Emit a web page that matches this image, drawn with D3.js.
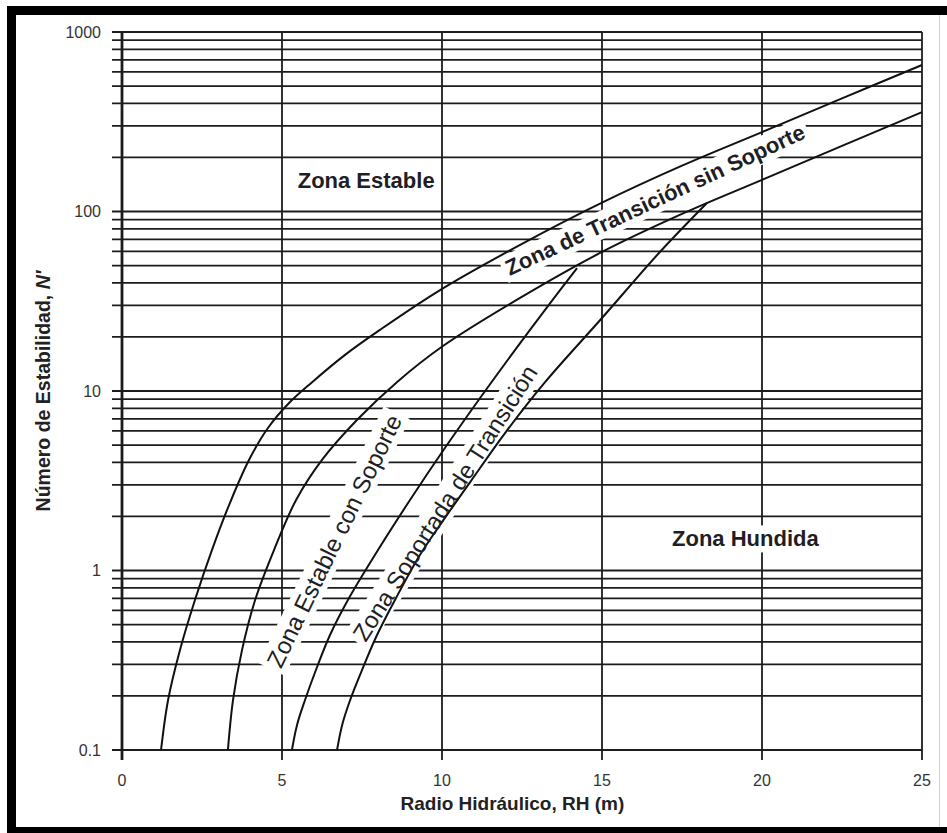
<!DOCTYPE html>
<html>
<head>
<meta charset="utf-8">
<script src="https://cdn.jsdelivr.net/npm/d3@7"></script>
<style>
  html, body { margin: 0; padding: 0; background: #fff; }
  svg { display: block; }
  text { font-family: "Liberation Sans", Arial, Helvetica, sans-serif; }
</style>
</head>
<body>
<svg id="chart" width="947" height="833"></svg>
<script>
// ---- Data: stability graph boundaries (Hydraulic radius RH vs stability number N') ----
const xTicks = [0, 5, 10, 15, 20, 25];
const yTickLabels = ["0.1", "1", "10", "100", "1000"];

// Upper boundary of the stable zone
const boundary1RH = [1.22, 1.44, 1.81, 2.28, 2.81, 3.41, 4.0, 4.56, 5.25, 5.94, 6.97, 8.06, 9.94, 12.5, 15, 17.5, 20, 22.5, 25];
const boundary1N  = [0.1, 0.19, 0.36, 0.685, 1.3, 2.47, 4.23, 6.22, 8.68, 11.2, 15.9, 21.9, 36.5, 66, 112, 180, 277, 427, 655];

// Lower boundary of the unsupported transition zone
const boundary2RH = [3.31, 3.47, 3.75, 4.16, 4.75, 5.44, 6.25, 7.34, 8.59, 10.03, 12.44, 15, 17.5, 20, 22.5, 25];
const boundary2N  = [0.1, 0.19, 0.36, 0.685, 1.3, 2.47, 4.13, 6.89, 11.2, 17.8, 33, 59.5, 96.9, 150, 232, 358];

// Limit of the supported stable zone
const boundary3RH = [5.31, 5.47, 5.72, 6.06, 6.5, 7.06, 8.0, 9.0, 10.09, 11.19, 12.28, 13.38, 14.22];
const boundary3N  = [0.1, 0.138, 0.19, 0.279, 0.437, 0.685, 1.3, 2.47, 4.81, 9.14, 16.9, 30.9, 48.4];

// Limit of the supported transition zone
const boundary4RH = [6.72, 6.88, 7.13, 7.5, 7.97, 8.53, 9.31, 10.0, 10.88, 11.97, 13.22, 15.0, 16.81, 18.28];
const boundary4N  = [0.1, 0.138, 0.19, 0.279, 0.437, 0.685, 1.22, 1.86, 3.11, 5.83, 11.2, 25.5, 59.5, 111.5];

// Zone names, with anchor position (RH, N) and rotation in degrees
const zoneNames  = ["Zona Estable", "Zona Hundida", "Zona de Transición sin Soporte", "Zona Estable con Soporte", "Zona Soportada de Transición"];
const zoneRH     = [7.63, 19.48, 16.66, 6.63, 10.09];
const zoneN      = [148, 1.5, 116, 1.46, 2.38];
const zoneAngle  = [0, 0, -25, -64, -57.5];
const zoneBold   = [true, true, true, false, false];
const zoneSize   = [22, 22, 22, 24, 24];

// ---- Layout ----
const svg = d3.select("#chart");
const W = 947, H = 833;
const plot = { left: 122, right: 922, top: 32, bottom: 750 };

const x = d3.scaleLinear().domain([0, 25]).range([plot.left, plot.right]);
const y = d3.scaleLog().domain([0.1, 1000]).range([plot.bottom, plot.top]);

// Outer frame
svg.append("rect").attr("x", 0).attr("y", 0).attr("width", W).attr("height", H).attr("fill", "#fff");
svg.append("rect").attr("x", 7).attr("y", 6).attr("width", 940).attr("height", 9).attr("fill", "#000");
svg.append("rect").attr("x", 7).attr("y", 6).attr("width", 9).attr("height", 827).attr("fill", "#000");
svg.append("rect").attr("x", 7).attr("y", 827).attr("width", 940).attr("height", 6).attr("fill", "#000");
svg.append("line").attr("x1", 939.5).attr("x2", 939.5).attr("y1", 15).attr("y2", 827)
  .attr("stroke", "#d0d0d0").attr("stroke-width", 1);

const gridColor = "#1c1c1c";

// Horizontal grid lines at every log tick (with a short tick stub to the left)
const yGrid = y.ticks();
svg.append("g").selectAll("line").data(yGrid).join("line")
  .attr("x1", plot.left - 10).attr("x2", plot.right)
  .attr("y1", d => y(d)).attr("y2", d => y(d))
  .attr("stroke", gridColor).attr("stroke-width", 1.8);

// Vertical grid lines (with tick stub below)
svg.append("g").selectAll("line").data(xTicks).join("line")
  .attr("x1", d => x(d)).attr("x2", d => x(d))
  .attr("y1", plot.top).attr("y2", plot.bottom + 10)
  .attr("stroke", gridColor).attr("stroke-width", d => d === 0 ? 2.8 : 1.8);

// Tick labels
svg.append("g").selectAll("text").data(yTickLabels).join("text")
  .attr("x", plot.left - 21).attr("y", d => y(+d))
  .attr("text-anchor", "end").attr("dominant-baseline", "central")
  .attr("font-size", 16).attr("fill", "#333")
  .text(d => d);

svg.append("g").selectAll("text").data(xTicks).join("text")
  .attr("x", d => x(d)).attr("y", plot.bottom + 30)
  .attr("text-anchor", "middle").attr("dominant-baseline", "central")
  .attr("font-size", 16).attr("fill", "#333")
  .text(d => d);

// Axis titles
svg.append("text")
  .attr("x", x(12.2)).attr("y", 803)
  .attr("text-anchor", "middle").attr("dominant-baseline", "central")
  .attr("font-size", 19).attr("font-weight", "bold").attr("fill", "#222")
  .text("Radio Hidráulico, RH (m)");

const yTitle = svg.append("text")
  .attr("transform", `translate(43, ${(plot.top + plot.bottom) / 2}) rotate(-90)`)
  .attr("text-anchor", "middle").attr("dominant-baseline", "central")
  .attr("font-size", 19.5).attr("font-weight", "bold").attr("fill", "#222");
yTitle.append("tspan").text("Número de Estabilidad, ");
yTitle.append("tspan").attr("font-style", "italic").text("N'");

// Layers: label backgrounds under the curves, label text above
const bgLayer = svg.append("g");
const curveLayer = svg.append("g");
const textLayer = svg.append("g");

// Boundary curves
const line = d3.line()
  .x(d => x(d[0])).y(d => y(d[1]))
  .curve(d3.curveCatmullRom.alpha(0.5));

const boundaries = [
  d3.zip(boundary1RH, boundary1N),
  d3.zip(boundary2RH, boundary2N),
  d3.zip(boundary3RH, boundary3N),
  d3.zip(boundary4RH, boundary4N)
];
curveLayer.selectAll("path").data(boundaries).join("path")
  .attr("d", line)
  .attr("fill", "none").attr("stroke", "#111").attr("stroke-width", 2);

// Zone labels with a white backing box that interrupts the grid
zoneNames.forEach((name, i) => {
  const tf = `translate(${x(zoneRH[i])}, ${y(zoneN[i])}) rotate(${zoneAngle[i]})`;
  const g = textLayer.append("g").attr("transform", tf);
  const t = g.append("text")
    .attr("text-anchor", "middle").attr("dominant-baseline", "central")
    .attr("font-size", zoneSize[i])
    .attr("font-weight", zoneBold[i] ? "bold" : "normal")
    .attr("fill", "#1e1e24")
    .text(name);
  const b = t.node().getBBox();
  const pad = 4;
  bgLayer.append("rect")
    .attr("transform", tf)
    .attr("x", b.x - pad).attr("y", b.y - 1)
    .attr("width", b.width + 2 * pad).attr("height", b.height + 2)
    .attr("fill", "#fff");
});
</script>
</body>
</html>
